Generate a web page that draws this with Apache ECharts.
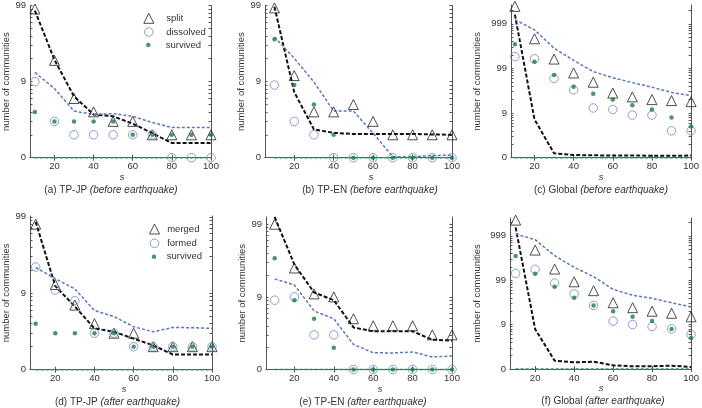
<!DOCTYPE html>
<html>
<head>
<meta charset="utf-8">
<script src="https://cdn.jsdelivr.net/npm/echarts@6/dist/echarts.min.js"></script>
<style>
html, body { margin: 0; padding: 0; background: #fff; }
#main { width: 702px; height: 408px; }
</style>
</head>
<body>
<div id="main"></div>
<script>
// s 取值
var sizes = [10, 20, 30, 40, 50, 60, 70, 80, 90, 100];
// 刻度（y 轴按 log10(count + 1) 画）
var xTickLabels = [20, 40, 60, 80, 100];
var yTickCounts = [0, 9, 99, 999];

// (a) TP-JP before
var splitA      = [89, 18, 5, 3, 2, 2, 1, 1, 1, 1];
var dissolvedA  = [9, 2, 1, 1, 1, 1, 1, 0, 0, 0];
var survivedA   = [3, 2, 2, 2, 2, 1, 1, 1, 1, 1];
var nullSplitA  = [84.7, 18.3, 5.4, 2.7, 2.5, 1.8, 1.1, 0.56, 0.56, 0.56];
var nullDissA   = [12.2, 7.1, 3.1, 2.7, 2.8, 2.5, 1.9, 1.5, 1.5, 1.5];
var nullSurvA   = [0, 0, 0, 0, 0, 0, 0, 0, 0, 0];

// (b) TP-EN before
var splitB      = [92, 11, 3, 3, 4, 2, 1, 1, 1, 1];
var dissolvedB  = [8, 2, 1, 0, 0, 0, 0, 0, 0, 0];
var survivedB   = [35, 8, 4, 1, 0, 0, 0, 0, 0, 0];
var nullSplitB  = [95, 6.3, 1.35, 1.12, 1.05, 1.05, 1.05, 1.05, 1.02, 1.0];
var nullDissB   = [37.5, 19.3, 8.9, 3.1, 3.1, 1.1, 0.03, 0.03, 0.07, 0.08];
var nullSurvB   = [0, 0, 0, 0, 0, 0, 0, 0, 0, 0];

// (c) Global before
var splitC      = [2450, 460, 161, 78, 48, 27, 22, 19, 18, 17];
var dissolvedC  = [183, 163, 59, 32, 12, 11, 8, 8, 3, 3];
var survivedC   = [347, 140, 70, 38, 26, 19, 14, 11, 7, 4];
var nullSplitC  = [1600, 6.2, 0.25, 0.15, 0.13, 0.12, 0.12, 0.11, 0.1, 0.12];
var nullDissC   = [1230, 730, 283, 150, 84, 61, 47, 37, 28, 23.5];
var nullSurvC   = [0, 0, 0, 0, 0, 0, 0, 0, 0, 0];

// (d) TP-JP after
var mergedD     = [79, 12, 6, 3, 2, 2, 1, 1, 1, 1];
var formedD     = [21, 10, 7, 2, 2, 1, 1, 1, 1, 1];
var survivedD   = [3, 2, 2, 2, 2, 1, 1, 1, 1, 1];
var nullMergeD  = [84.8, 11.4, 5.7, 2.47, 2.13, 1.55, 1.08, 0.58, 0.58, 0.58];
var nullFormD   = [20.7, 14.5, 10.4, 4.95, 3.95, 2.65, 2.13, 2.57, 2.54, 2.47];
var nullSurvD   = [0, 0, 0, 0, 0, 0, 0, 0, 0, 0];

// (e) TP-EN after
var mergedE     = [99, 24, 10, 9, 4, 3, 3, 3, 2, 2];
var formedE     = [8, 9, 2, 2, 0, 0, 0, 0, 0, 0];
var survivedE   = [33, 8, 4, 1, 0, 0, 0, 0, 0, 0];
var nullMergeE  = [125, 26.9, 10.5, 8.0, 2.8, 2.35, 2.35, 2.35, 1.58, 1.5];
var nullFormE   = [16.7, 13.6, 5.4, 4.0, 1.21, 0.7, 0.69, 0.74, 0.49, 0.53];
var nullSurvE   = [0, 0, 0, 0, 0, 0, 0, 0, 0, 0];

// (f) Global after
var mergedF     = [2250, 475, 177, 91, 57, 30, 23, 19, 17, 14];
var formedF     = [141, 174, 85, 48, 26, 11, 9, 8, 7, 5];
var survivedF   = [349, 139, 70, 39, 26, 19, 14, 11, 7, 4];
var nullMergeF  = [1540, 6.9, 0.54, 0.41, 0.46, 0.21, 0.15, 0.15, 0.19, 0.11];
var nullFormF   = [1095, 815, 355, 194, 119, 61, 45, 38, 30, 24];
var nullSurvF   = [0, 0, 0, 0, 0, 0, 0, 0, 0, 0];

var FONT = '"Liberation Sans", Arial, sans-serif';
var TEXT = '#333';
var AXIS = '#555';

function toPoints(counts) {
    return counts.map(function (c, i) { return [sizes[i], Math.log10(c + 1)]; });
}

// 对数次刻度 (1..9 x 10^d)
var yTicks = [];
for (var d = 0; d < 4; d++) {
    for (var k = 1; k < 10; k++) yTicks.push(Math.log10(k * Math.pow(10, d)));
}
var yLabelValues = yTickCounts.map(function (c) { return Math.log10(c + 1); });

var panels = [
    { box: [30, 5.5, 181, 152.2], xMin: 7.5, yMax: 2, nameGap: 17,
      names: ['split', 'dissolved', 'survived'],
      marks: [splitA, dissolvedA, survivedA], lines: [nullSplitA, nullDissA, nullSurvA],
      tag: '(a) TP-JP ', when: '(before earthquake)', capX: 111, sX: 122 },
    { box: [265, 5.5, 187, 152.2], xMin: 5.2, yMax: 2, nameGap: 11,
      names: ['split', 'dissolved', 'survived'],
      marks: [splitB, dissolvedB, survivedB], lines: [nullSplitB, nullDissB, nullSurvB],
      tag: '(b) TP-EN ', when: '(before earthquake)', capX: 370, sX: 371 },
    { box: [511, 5, 181, 152.7], xMin: 8, yMax: 3.42, nameGap: 29,
      names: ['split', 'dissolved', 'survived'],
      marks: [splitC, dissolvedC, survivedC], lines: [nullSplitC, nullDissC, nullSurvC],
      tag: '(c) Global ', when: '(before earthquake)', capX: 601, sX: 601 },
    { box: [30, 216, 182, 153.7], xMin: 7.1, yMax: 2.01, nameGap: 16,
      names: ['merged', 'formed', 'survived'],
      marks: [mergedD, formedD, survivedD], lines: [nullMergeD, nullFormD, nullSurvD],
      tag: '(d) TP-JP ', when: '(after earthquake)', capX: 117.5, sX: 124 },
    { box: [266, 217, 186, 152.5], xMin: 5.6, yMax: 2.1, nameGap: 12,
      names: ['merged', 'formed', 'survived'],
      marks: [mergedE, formedE, survivedE], lines: [nullMergeE, nullFormE, nullSurvE],
      tag: '(e) TP-EN ', when: '(after earthquake)', capX: 363, sX: 380 },
    { box: [510, 218, 182, 151], xMin: 7.1, yMax: 3.4, nameGap: 28,
      names: ['merged', 'formed', 'survived'],
      marks: [mergedF, formedF, survivedF], lines: [nullMergeF, nullFormF, nullSurvF],
      tag: '(f) Global ', when: '(after earthquake)', capX: 603, sX: 601 }
];

var markStyles = [
    { symbol: 'triangle', symbolSize: 10, itemStyle: { color: 'rgba(0,0,0,0)', borderColor: '#222', borderWidth: 1 } },
    { symbol: 'circle', symbolSize: 8.5, itemStyle: { color: 'rgba(0,0,0,0)', borderColor: '#7086c6', borderWidth: 1 } },
    { symbol: 'circle', symbolSize: 4.5, itemStyle: { color: '#1d7a4c' } }
];
var lineStyles = [
    { color: '#111', width: 2, type: [4, 2] },
    { color: '#5a77bd', width: 1.5, type: [3, 2] },
    { color: '#2e8b57', width: 1.5, type: [3, 2] }
];

var grids = [], xAxes = [], yAxes = [], series = [], graphics = [];

panels.forEach(function (p, i) {
    grids.push({ left: p.box[0], top: p.box[1], width: p.box[2], height: p.box[3], containLabel: false });
    xAxes.push({
        gridIndex: i, type: 'value', position: 'bottom', min: p.xMin, max: 100,
        axisLine: { lineStyle: { color: AXIS, width: 1 } },
        axisTick: { inside: true, length: 3, customValues: xTickLabels, lineStyle: { color: AXIS } },
        axisLabel: { customValues: xTickLabels, color: TEXT, fontSize: 9.5, fontFamily: FONT, margin: 4 },
        splitLine: { show: false }
    });
    yAxes.push({
        gridIndex: i, type: 'value', position: 'left', min: 0, max: p.yMax,
        name: 'number of communities', nameLocation: 'middle', nameGap: p.nameGap,
        nameTextStyle: { color: TEXT, fontSize: 9.5, fontFamily: FONT },
        axisLine: { show: true, lineStyle: { color: AXIS, width: 1 } },
        axisTick: { show: true, inside: true, length: 2.5, customValues: yTicks, lineStyle: { color: AXIS } },
        axisLabel: {
            customValues: yLabelValues, color: TEXT, fontSize: 9.5, fontFamily: FONT, margin: 4,
            formatter: function (v) { return String(Math.round(Math.pow(10, v) - 1)); }
        },
        splitLine: { show: false }
    });

    // 虚线（零模型）
    p.lines.forEach(function (vals, j) {
        series.push({
            type: 'line', name: 'null ' + p.names[j], xAxisIndex: i, yAxisIndex: i,
            data: toPoints(vals), showSymbol: false, clip: false, silent: true,
            lineStyle: lineStyles[j], z: 2
        });
    });
    // 散点
    p.marks.forEach(function (vals, j) {
        var st = markStyles[j];
        series.push({
            type: 'scatter', name: p.names[j], xAxisIndex: i, yAxisIndex: i,
            data: toPoints(vals), symbol: st.symbol, symbolSize: st.symbolSize,
            itemStyle: st.itemStyle, clip: false, silent: true, z: 3 + j
        });
    });

    var bottom = p.box[1] + p.box[3];
    graphics.push({
        type: 'text', x: p.sX, y: bottom + 19.5,
        style: { text: 's', fill: TEXT, font: 'italic 9.5px ' + FONT, align: 'center', verticalAlign: 'middle' }
    });
    graphics.push({
        type: 'text', x: p.capX, y: bottom + 32.5,
        style: {
            text: '{n|' + p.tag + '}{i|' + p.when + '}', fill: TEXT, align: 'center', verticalAlign: 'middle',
            rich: {
                n: { fontSize: 10, fontFamily: FONT, fill: TEXT },
                i: { fontSize: 10, fontFamily: FONT, fontStyle: 'italic', fill: TEXT }
            }
        }
    });
});

// 外框另外两边的刻度
panels.forEach(function (p, i) {
    xAxes.push({
        gridIndex: i, type: 'value', position: 'top', min: p.xMin, max: 100,
        axisLine: { lineStyle: { color: AXIS, width: 1 } },
        axisTick: { inside: true, length: 3, customValues: xTickLabels, lineStyle: { color: AXIS } },
        axisLabel: { show: false }, splitLine: { show: false }
    });
    yAxes.push({
        gridIndex: i, type: 'value', position: 'right', min: 0, max: p.yMax,
        axisLine: { show: true, lineStyle: { color: AXIS, width: 1 } },
        axisTick: { show: true, inside: true, length: 2.5, customValues: yTicks, lineStyle: { color: AXIS } },
        axisLabel: { show: false }, splitLine: { show: false }
    });
});

// 图例（每行单独一个，便于控制图标大小）
// cx: 图标中心, textX: 文字起点, cy: 行中心, size: 图标大小
function legendRow(name, cx, textX, cy, size) {
    var left = cx - size / 2;
    return {
        data: [name], orient: 'vertical', left: left, top: cy - 6, padding: 0,
        itemWidth: size, itemHeight: size, selectedMode: false, symbolKeepAspect: true,
        itemStyle: { borderWidth: 1 },
        textStyle: {
            color: TEXT, fontSize: 9.5, fontFamily: FONT, lineHeight: 12,
            padding: [0, 0, 0, textX - (left + size + 5)]
        }
    };
}
var legends = [
    legendRow('split', 148.3, 165.7, 18.3, 10),
    legendRow('dissolved', 148.3, 165.7, 32, 8.5),
    legendRow('survived', 148.3, 165.7, 45, 4.5),
    legendRow('merged', 154, 166.7, 229, 10),
    legendRow('formed', 154, 166.7, 243.3, 8.5),
    legendRow('survived', 154, 166.7, 256.7, 4.5)
];

var myChart = echarts.init(document.getElementById('main'));
myChart.setOption({
    animation: false,
    backgroundColor: '#fff',
    grid: grids,
    xAxis: xAxes,
    yAxis: yAxes,
    legend: legends,
    series: series,
    graphic: graphics
});
window.addEventListener('resize', function () { myChart.resize(); });
</script>
</body>
</html>
